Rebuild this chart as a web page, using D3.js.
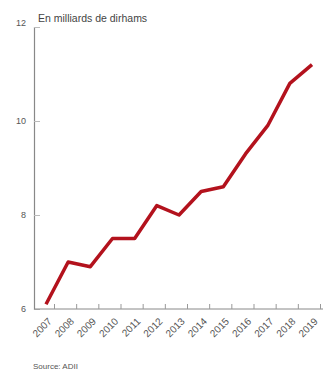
<!DOCTYPE html>
<html>
<head>
<meta charset="utf-8">
<script src="https://cdn.jsdelivr.net/npm/d3@7"></script>
<style>
  body { margin: 0; background: #fff; }
  svg text { font-family: "Liberation Sans", Arial, sans-serif; }
</style>
</head>
<body>
<div id="chart"></div>
<script>
// data
let years = ["2007", "2008", "2009", "2010", "2011", "2012", "2013",
             "2014", "2015", "2016", "2017", "2018", "2019"];
let values = [6.1, 7.0, 6.9, 7.5, 7.5, 8.2, 8.0, 8.5, 8.6, 9.3, 9.9, 10.8, 11.2];
let yTicks = [6, 8, 10, 12];

let totalWidth = 323, totalHeight = 372;
let axisX = 34, axisTop = 27, axisBottom = 309;

let svg = d3.select("#chart").append("svg")
    .attr("width", totalWidth)
    .attr("height", totalHeight);

let xScale = d3.scalePoint()
    .domain(years)
    .range([46, 312]);

// tick marks sit where the rotated labels end, a bit right of the points
let xAxisScale = d3.scalePoint()
    .domain(years)
    .range([54, 320]);

let yScale = d3.scaleLinear()
    .domain([6, 12])
    .range([axisBottom, axisTop]);

// y axis
let yAxis = d3.axisRight(yScale)
    .tickValues(yTicks)
    .tickSize(6)
    .tickFormat(d3.format("d"));

let gy = svg.append("g")
    .attr("transform", "translate(" + axisX + ",0)")
    .call(yAxis);
gy.select(".domain").attr("stroke", "#888").attr("stroke-width", 1.2);
gy.selectAll(".tick line").attr("stroke", "#bbb");
gy.selectAll(".tick text")
    .attr("x", -8)
    .attr("text-anchor", "end")
    .attr("fill", "#555")
    .style("font-size", "9px");
gy.selectAll(".tick").filter(d => d == 12).select("text").attr("dy", "-0.2em");

// x axis
let xAxis = d3.axisTop(xAxisScale)
    .tickSize(5)
    .tickSizeOuter(0);

let gx = svg.append("g")
    .attr("transform", "translate(0," + axisBottom + ")")
    .call(xAxis);
gx.select(".domain")
    .attr("d", "M" + axisX + ",0H" + totalWidth)
    .attr("stroke", "#888")
    .attr("stroke-width", 1);
gx.selectAll(".tick line").attr("stroke", "#999");
gx.selectAll(".tick text")
    .attr("x", 0)
    .attr("y", 0)
    .attr("dy", "0.7em")
    .attr("text-anchor", "end")
    .attr("fill", "#555")
    .style("font-size", "10px")
    .attr("transform", "translate(-7,8) rotate(-45)");

// line
let line = d3.line()
    .x((d, i) => xScale(years[i]))
    .y(d => yScale(d));

svg.append("path")
    .datum(values)
    .attr("fill", "none")
    .attr("stroke", "#b3121d")
    .attr("stroke-width", 3.5)
    .attr("stroke-linejoin", "round")
    .attr("d", line);

// unit label
svg.append("text")
    .attr("x", 38)
    .attr("y", 22)
    .attr("fill", "#444")
    .style("font-size", "10.5px")
    .text("En milliards de dirhams");

// source
svg.append("text")
    .attr("x", 33)
    .attr("y", 369)
    .attr("fill", "#555")
    .style("font-size", "8px")
    .text("Source: ADII");
</script>
</body>
</html>
